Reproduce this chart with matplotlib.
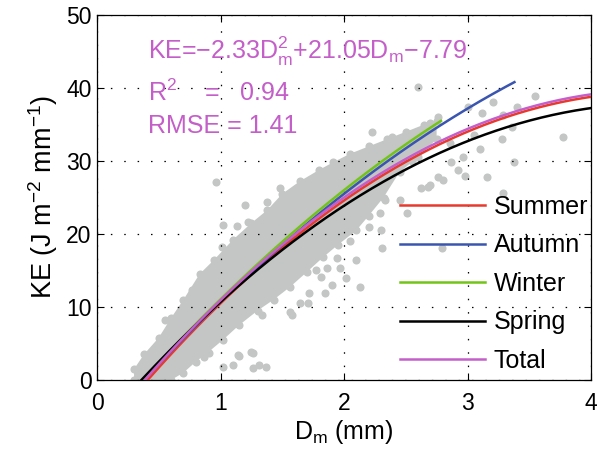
import numpy as np
import matplotlib
matplotlib.use('Agg')
import matplotlib.pyplot as plt
from matplotlib.pyplot import MultipleLocator


plt.rcParams.update({
    "font.family": ["Liberation Sans", "DejaVu Sans"],
    "mathtext.fontset": "custom",
    "mathtext.rm": "Liberation Sans",
    "mathtext.it": "Liberation Sans:italic",
    "axes.unicode_minus": True,
})

# Fitted curves: KE = a*Dm^2 + b*Dm + c, drawn from zero crossing to x_end
seasons = ['Summer', 'Autumn', 'Winter', 'Spring', 'Total']
colors = ['#e83a2c', '#3a55b0', '#72c416', '#000000', '#c45ec8']
coef_a = [-2.33, -1.55, -1.60, -2.16, -2.33]
coef_b = [21.08, 19.43, 19.75, 19.65, 21.05]
coef_c = [-8.25, -7.16, -7.10, -6.79, -7.79]
x_end = [4.0, 3.38, 2.785, 4.0, 4.0]

# Dense core of the point cloud (outline, Dm / KE)
cloud_x = [0.30, 0.30, 0.38, 0.50, 0.60, 0.70, 0.83, 0.95, 1.10, 1.25, 1.38, 1.50,
           1.64, 1.80, 1.91, 2.05, 2.20, 2.35, 2.50, 2.65, 2.75,
           2.75, 2.60, 2.45, 2.32, 2.20, 2.10, 1.95, 1.83, 1.70, 1.56, 1.43,
           1.30, 1.15, 1.02, 0.90, 0.80, 0.70, 0.60]
cloud_y = [0.0, 1.5, 3.5, 5.8, 8.5, 11.0, 14.5, 16.5, 19.2, 21.5, 23.3, 25.5,
           27.2, 28.8, 29.8, 31.0, 32.0, 33.0, 34.0, 35.0, 35.5,
           33.0, 30.5, 28.5, 25.0, 22.5, 20.5, 18.5, 16.8, 14.8, 12.7, 11.0,
           9.5, 7.5, 5.5, 3.8, 2.5, 1.0, 0.0]

# Scattered points outside the dense core
pts_x = [2.60, 2.23, 3.55, 3.40, 3.21, 3.12, 3.00, 3.77, 3.28, 3.38, 3.16, 2.98,
         3.10, 2.92, 3.29, 2.76, 2.68, 2.62, 2.51, 2.33, 2.29, 2.80, 2.96, 2.87,
         2.76, 2.70, 3.36, 3.29, 2.79, 2.70, 2.45, 0.96, 1.48, 1.38, 1.02, 1.13,
         1.22, 1.01, 2.39, 2.31, 2.13, 1.94, 1.86, 1.77, 1.85, 1.72, 1.64, 1.56,
         1.20, 1.97, 1.81, 1.71, 1.58, 1.34, 1.26, 1.14, 1.02, 1.10, 1.31, 1.37,
         1.26, 0.91, 0.87, 1.15, 1.25, 0.55, 0.77, 2.30, 2.10, 2.02, 1.90, 2.40,
         2.55, 2.86, 3.05, 2.20, 2.05]
pts_y = [40.1, 34.0, 38.9, 37.4, 38.1, 36.6, 37.4, 33.3, 33.0, 29.9, 27.8, 27.9,
         31.6, 28.8, 25.6, 27.8, 26.4, 26.3, 22.9, 24.7, 22.9, 27.4, 30.5, 29.9,
         36.0, 35.2, 34.7, 36.3, 18.1, 26.7, 24.7, 27.1, 26.3, 24.4, 21.2, 21.1,
         21.6, 18.2, 33.3, 18.1, 12.7, 16.7, 15.3, 15.1, 11.9, 11.9, 10.5, 9.3,
         24.0, 15.3, 14.1, 10.5, 8.9, 8.9, 3.7, 3.4, 1.8, 2.1, 2.1, 1.8,
         1.6, 3.7, 3.2, 3.3, 3.8, 8.2, 12.3, 20.5, 16.5, 14.0, 13.0, 31.5,
         30.0, 32.5, 33.5, 21.0, 19.0]

xlabel = r'D$_{\mathrm{m}}$ (mm)'
ylabel = r'KE (J m$^{\mathrm{-2}}$ mm$^{\mathrm{-1}}$)'

grey = '#c4c6c6'
pink = '#c45ec8'

fig = plt.figure(figsize=(5.97, 4.59), dpi=100)
ax = fig.add_axes([97 / 597, 1 - 380 / 459, 494 / 597, 365 / 459])

# point cloud
ax.fill(cloud_x, cloud_y, color=grey, lw=0, zorder=1)
ax.scatter(cloud_x, cloud_y, s=34, color=grey, lw=0, zorder=1)
ax.scatter(pts_x, pts_y, s=34, color=grey, lw=0, zorder=1)

# fitted curves
for i in range(len(seasons)):
    a, b, c = coef_a[i], coef_b[i], coef_c[i]
    x0 = (-b + np.sqrt(b * b - 4 * a * c)) / (2 * a)
    xx = np.linspace(x0, x_end[i], 200)
    ax.plot(xx, a * xx ** 2 + b * xx + c, color=colors[i], lw=1.8,
            label=seasons[i], zorder=3 + (i == 4))

ax.set_xlim(0, 4)
ax.set_ylim(0, 50)
ax.xaxis.set_major_locator(MultipleLocator(1))
ax.yaxis.set_major_locator(MultipleLocator(10))
ax.tick_params(axis='both', direction='in', length=5, width=0.8, labelsize=16.5,
               top=True, right=True)
ax.tick_params(axis='x', pad=9)
ax.tick_params(axis='y', pad=4)
ax.grid(True, color='black', linestyle=(0, (1.2, 9.5)), linewidth=0.9)
for s in ax.spines.values():
    s.set_linewidth(0.9)

ax.set_xlabel(xlabel, fontsize=18, labelpad=2)
ax.set_ylabel(ylabel, fontsize=19.5, labelpad=4)

# fit annotation
ax.text(0.103, 0.90, r'KE=$-$2.33D$_{\mathrm{m}}^{\mathrm{2}}$+21.05D$_{\mathrm{m}}$$-$7.79',
        transform=ax.transAxes, color=pink, fontsize=18, va='center')
ax.text(0.103, 0.786, r'R$^{\mathrm{2}}$    =   0.94', transform=ax.transAxes,
        color=pink, fontsize=18, va='center')
ax.text(0.103, 0.696, 'RMSE = 1.41', transform=ax.transAxes,
        color=pink, fontsize=18, va='center')

ax.legend(loc='upper left', bbox_to_anchor=(0.613, 0.507), frameon=False,
          fontsize=18, handlelength=3.4, handletextpad=0.36, labelspacing=0.58,
          borderpad=0, borderaxespad=0)

plt.savefig('out.png', dpi=100)
